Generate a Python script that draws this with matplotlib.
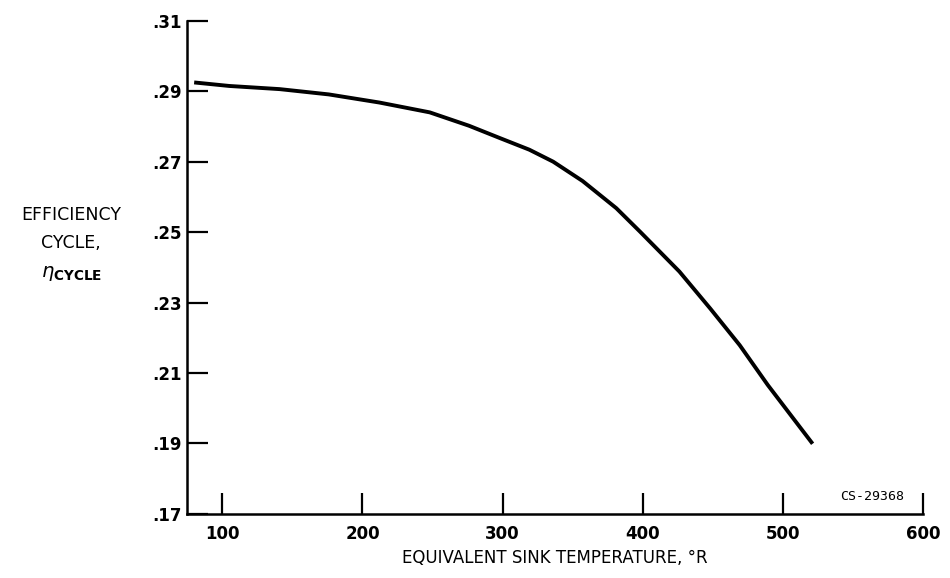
import numpy as np
import matplotlib
matplotlib.use("Agg")
import matplotlib.pyplot as plt

# values
sink_temp = [80, 105, 141, 176, 212, 248, 276, 298, 319, 336, 357, 381,
             398, 426, 448, 469, 489, 507, 521]
efficiency = [0.2925, 0.2915, 0.2906, 0.2891, 0.2868, 0.2840, 0.2802,
              0.2767, 0.2734, 0.2700, 0.2645, 0.2568, 0.2501, 0.2388,
              0.2283, 0.2179, 0.2066, 0.1972, 0.1899]

x_ticks = [100, 200, 300, 400, 500, 600]
y_ticks = [0.17, 0.19, 0.21, 0.23, 0.25, 0.27, 0.29, 0.31]
y_tick_labels = [".17", ".19", ".21", ".23", ".25", ".27", ".29", ".31"]

fig = plt.figure(figsize=(9.5, 5.78), dpi=100)
ax = fig.add_axes([0.197, 0.111, 0.775, 0.853])

ax.plot(sink_temp, efficiency, color="black", lw=2.8,
        solid_capstyle="butt", solid_joinstyle="round")

ax.set_xlim(75, 600)
ax.set_ylim(0.17, 0.31)
ax.set_xticks(x_ticks)
ax.set_xticklabels([str(t) for t in x_ticks], fontsize=12, fontweight="bold")
ax.set_yticks(y_ticks)
ax.set_yticklabels(y_tick_labels, fontsize=12, fontweight="bold")

for side in ["top", "right"]:
    ax.spines[side].set_visible(False)
for side in ["left", "bottom"]:
    ax.spines[side].set_linewidth(1.8)

ax.tick_params(direction="in", length=15, width=1.6, pad=4)
ax.tick_params(axis="x", pad=8)

ax.set_xlabel("EQUIVALENT SINK TEMPERATURE, °R", fontsize=12, labelpad=4)

fig.text(0.075, 0.628, "EFFICIENCY", fontsize=12.5, ha="center", va="center")
fig.text(0.075, 0.580, "CYCLE,", fontsize=12.5, ha="center", va="center")
fig.text(0.075, 0.526, r"$\eta_{\mathbf{CYCLE}}$", fontsize=14,
         ha="center", va="center")

ax.text(0.931, 0.036, "CS-29368", transform=ax.transAxes, fontsize=9.5,
        family="DejaVu Sans Mono", ha="center", va="center")

fig.savefig("out.png", dpi=100)
